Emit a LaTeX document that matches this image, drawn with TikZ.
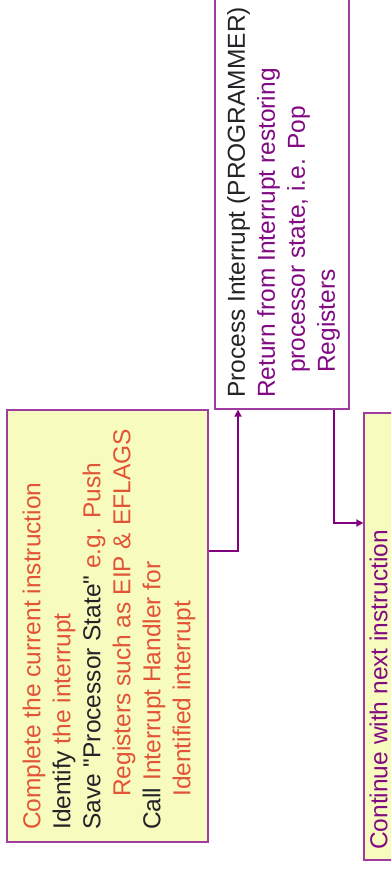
\documentclass[tikz,border=0pt]{standalone}
\usepackage{fontspec}
\setmainfont{Liberation Sans}
\usetikzlibrary{arrows.meta}
\definecolor{boxfill}{RGB}{248,251,190}
\definecolor{boxline}{RGB}{160,60,160}
\definecolor{conncol}{RGB}{128,0,128}
\definecolor{orangetxt}{RGB}{226,84,56}
\definecolor{darktxt}{RGB}{35,35,40}
\definecolor{purpletxt}{RGB}{130,10,130}
\begin{document}
\begin{tikzpicture}[x=1pt,y=-1pt,
  boxshape/.style={draw=boxline, line width=1.3pt, rectangle, inner sep=0pt},
  yellowbox/.style={boxshape, fill=boxfill},
  whitebox/.style={boxshape, fill=white},
  boxtext/.style={rotate=90, anchor=north west, inner sep=0pt, align=left,
    font=\fontsize{24.5}{30}\selectfont},
  conn/.style={draw=conncol, line width=2.5pt, -{Triangle[length=7pt,width=7pt]}}]
\useasboundingbox (0,0) rectangle (391,874);
\clip (0,0) rectangle (391,874);
\fill[white] (0,0) rectangle (391,874);

\node[yellowbox, minimum width=201pt, minimum height=432pt] (b1) at (107.5,626) {};
\node[whitebox, minimum width=134pt, minimum height=429pt] (b2) at (282,194.5) {};
\node[yellowbox, minimum width=50pt, minimum height=447pt] (b3) at (389,636.5) {};

\node[boxtext, text=orangetxt] (t1) at (22.5,830) {Complete the current instruction\\
\textcolor{darktxt}{Identify} the interrupt\\
\textcolor{darktxt}{Save \textquotedbl Processor State\textquotedbl} e.g. Push\\
\hspace*{33pt}Registers such as EIP \& EFLAGS\\
\textcolor{darktxt}{Call} Interrupt Handler for\\
\hspace*{33pt}Identified interrupt};

\node[boxtext, text=purpletxt] (t2) at (227,398) {\textcolor{darktxt}{Process Interrupt (PROGRAMMER)}\\
Return from Interrupt restoring\\
\hspace*{25pt}processor state, i.e. Pop\\
\hspace*{25pt}Registers};

\node[boxtext, text=purpletxt] (t3) at (369.5,850) {Continue with next instruction};

\coordinate (c1) at (238,551);
\coordinate (c2) at (334,523);
\draw[conn] (b1.east |- c1) -- (c1) -- (c1 |- b2.south);
\draw[conn] (c2 |- b2.south) -- (c2) -- (b3.west |- c2);
\end{tikzpicture}
\end{document}
